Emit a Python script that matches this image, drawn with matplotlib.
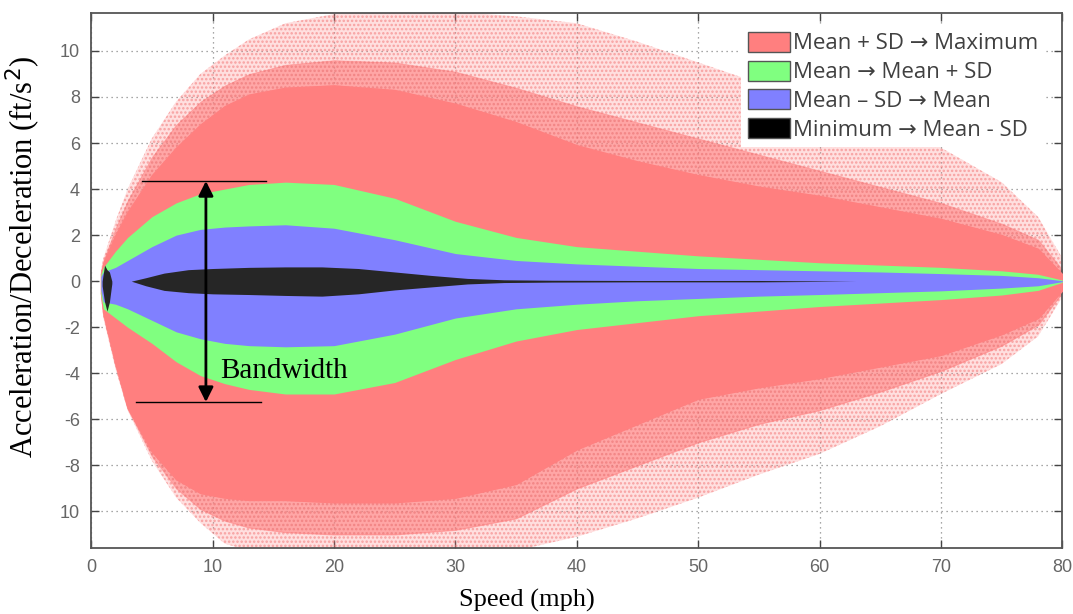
import matplotlib
matplotlib.use('Agg')
import matplotlib.pyplot as plt
from matplotlib.patches import Patch

# speed grid (mph) shared by the band envelopes
speed = [0.8, 1, 2, 3, 5, 7, 9, 11, 13, 16, 20, 25, 30, 35, 40, 45, 50, 55, 60, 65, 70, 75, 78, 80]

# red: sparse scatter fringe, dense speckle and solid part
red_outer_hi = [0.5, 1.0, 2.6, 4.0, 6.2, 7.8, 9.0, 9.8, 10.5, 11.2, 11.6, 11.7, 11.7, 11.5, 11.2, 10.4, 9.5, 8.6, 7.8, 6.8, 5.8, 4.3, 2.8, 1.0]
red_mid_hi = [0.4, 0.9, 2.3, 3.5, 5.4, 6.8, 7.8, 8.5, 9.0, 9.4, 9.6, 9.5, 9.1, 8.4, 7.6, 6.9, 6.2, 5.5, 4.8, 4.1, 3.4, 2.5, 1.8, 0.5]
red_hi = [0.3, 0.8, 2.0, 3.0, 4.6, 5.8, 6.8, 7.6, 8.1, 8.4, 8.5, 8.3, 7.7, 6.9, 5.9, 5.2, 4.6, 4.1, 3.7, 3.2, 2.7, 2.0, 1.4, 0.3]
red_lo = [-0.5, -1.4, -3.6, -5.5, -7.4, -8.6, -9.2, -9.4, -9.5, -9.5, -9.6, -9.6, -9.4, -8.8, -7.3, -6.2, -5.1, -4.6, -4.2, -3.7, -3.2, -2.3, -1.6, -0.4]
red_mid_lo = [-0.55, -1.5, -3.7, -5.55, -7.6, -9.0, -9.9, -10.4, -10.7, -10.9, -11.0, -11.0, -10.8, -10.3, -9.0, -8.0, -7.0, -6.2, -5.6, -4.8, -3.9, -2.8, -1.9, -0.5]
red_outer_lo = [-0.6, -1.6, -3.8, -5.6, -7.8, -9.4, -10.5, -11.4, -11.7, -11.7, -11.7, -11.7, -11.7, -11.7, -11.1, -10.3, -9.4, -8.4, -7.5, -6.3, -4.9, -3.6, -2.4, -0.7]

green_hi = [0.3, 0.6, 1.3, 1.9, 2.8, 3.4, 3.8, 4.0, 4.2, 4.3, 4.2, 3.6, 2.6, 1.9, 1.5, 1.3, 1.1, 0.95, 0.8, 0.7, 0.6, 0.45, 0.3, 0.05]
green_lo = [-0.6, -1.2, -1.6, -2.0, -2.7, -3.5, -4.1, -4.45, -4.7, -4.9, -4.9, -4.4, -3.4, -2.6, -2.1, -1.8, -1.5, -1.3, -1.1, -0.95, -0.8, -0.6, -0.4, -0.05]

blue_hi = [0.2, 0.4, 0.6, 0.9, 1.5, 2.0, 2.25, 2.35, 2.4, 2.45, 2.3, 1.8, 1.2, 0.9, 0.75, 0.65, 0.55, 0.5, 0.45, 0.4, 0.33, 0.25, 0.15, 0.02]
blue_lo = [-0.4, -0.9, -1.0, -1.2, -1.7, -2.2, -2.5, -2.7, -2.8, -2.85, -2.8, -2.3, -1.6, -1.2, -1.0, -0.85, -0.75, -0.65, -0.58, -0.5, -0.42, -0.3, -0.2, -0.02]

# black core
core_speed = [3.3, 4.5, 6, 8, 10, 13, 16, 19, 22, 25, 28, 31, 34, 38, 45, 55, 63]
core_hi = [0, 0.15, 0.35, 0.5, 0.55, 0.6, 0.62, 0.62, 0.55, 0.4, 0.25, 0.12, 0.06, 0.04, 0.03, 0.03, 0.0]
core_lo = [0, -0.2, -0.4, -0.5, -0.55, -0.58, -0.62, -0.65, -0.55, -0.38, -0.25, -0.12, -0.06, -0.04, -0.03, -0.03, 0.0]
# small dark blob near standstill
blob_speed = [0.9, 1.1, 1.3, 1.5, 1.7]
blob_hi = [0.0, 0.7, 0.5, 0.4, 0.0]
blob_lo = [-0.2, -0.9, -1.3, -0.9, -0.1]

yticks = [10, 8, 6, 4, 2, 0, -2, -4, -6, -8, -10]
ytick_labels = ['10', '8', '6', '4', '2', '0', '-2', '-4', '-6', '-8', '10']
xticks = [0, 10, 20, 30, 40, 50, 60, 70, 80]

labels = ['Mean + SD → Maximum', 'Mean → Mean + SD', 'Mean – SD → Mean', 'Minimum → Mean - SD']

RED = '#ff7f7f'
GREEN = '#80ff80'
BLUE = '#8080ff'
BLACK = '#262626'

plt.rcParams['hatch.linewidth'] = 1.2

fig = plt.figure(figsize=(10.73, 6.14), dpi=100)
ax = fig.add_axes([0.085, 0.107, 0.905, 0.872])

# sparse scatter fringe: pale fill plus a speckle hatch
for lo, hi in ((red_mid_hi, red_outer_hi), (red_outer_lo, red_mid_lo)):
    ax.fill_between(speed, lo, hi, facecolor=(1, 0.5, 0.5, 0.25), lw=0, zorder=2)
    ax.fill_between(speed, lo, hi, facecolor='none', edgecolor=(0.95, 0.45, 0.45, 0.55),
                    hatch='....', lw=0, zorder=2)
# dense speckle next to the solid part
for lo, hi in ((red_hi, red_mid_hi), (red_mid_lo, red_lo)):
    ax.fill_between(speed, lo, hi, facecolor=(1, 0.5, 0.5, 0.7), edgecolor=(1, 0.5, 0.5, 0.5),
                    lw=0.8, zorder=2)
    ax.fill_between(speed, lo, hi, facecolor='none', edgecolor=(0.9, 0.4, 0.4, 0.5),
                    hatch='....', lw=0, zorder=2)
ax.fill_between(speed, red_lo, red_hi, facecolor=RED, edgecolor=RED, lw=1, zorder=3)
ax.fill_between(speed, green_lo, green_hi, color=GREEN, lw=0, zorder=4)
ax.fill_between(speed, blue_lo, blue_hi, color=BLUE, lw=0, zorder=5)
ax.fill_between(core_speed, core_lo, core_hi, color=BLACK, lw=0, zorder=6)
ax.fill_between(blob_speed, blob_lo, blob_hi, color=BLACK, lw=0, zorder=6)

ax.set_xlim(0, 80)
ax.set_ylim(-11.6, 11.65)
ax.set_xticks(xticks)
ax.set_yticks(yticks)
ax.set_yticklabels(ytick_labels)
ax.tick_params(direction='in', top=True, right=True, length=6, width=1,
               colors='#444444', labelcolor='#666666', labelsize=13, pad=8)
for lab in ax.get_xticklabels() + ax.get_yticklabels():
    lab.set_fontfamily('Liberation Sans')
for sp in ax.spines.values():
    sp.set_color('#555555')
    sp.set_linewidth(1.3)
ax.grid(True, color='#8a8a8a', linestyle=(0, (1, 3)), linewidth=0.9, zorder=1)
ax.set_axisbelow(True)

ax.set_xlabel('Speed (mph)', family='Liberation Serif', fontsize=19)
ax.set_ylabel('Acceleration/Deceleration (ft/s$^2$)', family='Liberation Serif', fontsize=22)
ax.xaxis.set_label_coords(0.449, -0.075)
ax.yaxis.set_label_coords(-0.05, 0.545)

# bandwidth annotation
ax.plot([4.15, 14.4], [4.35, 4.35], color='black', lw=1, zorder=8)
ax.plot([3.7, 14.0], [-5.25, -5.25], color='black', lw=1, zorder=8)
ax.annotate('', xy=(9.45, 4.35), xytext=(9.45, -5.25),
            arrowprops=dict(arrowstyle='<|-|>', color='black', lw=2, mutation_scale=22,
                            shrinkA=0, shrinkB=0), zorder=9)
ax.text(10.6, -4.2, 'Bandwidth', family='Liberation Serif', fontsize=21, va='baseline', zorder=9)

handles = [Patch(facecolor=c, edgecolor='#555555', lw=1) for c in (RED, GREEN, BLUE, 'black')]
leg = ax.legend(handles, labels, loc='upper right', bbox_to_anchor=(0.982, 0.977), borderaxespad=0,
                prop={'family': ['Open Sans', 'DejaVu Sans'], 'size': 16}, handlelength=1.9,
                handleheight=1.0, handletextpad=0.12, labelspacing=0.28, borderpad=0.3,
                frameon=True, fancybox=False, framealpha=1)
leg.get_frame().set_edgecolor('white')
leg.get_frame().set_linewidth(0)
for t in leg.get_texts():
    t.set_color('#404040')
leg.set_zorder(10)

fig.savefig('out.png', dpi=100)
